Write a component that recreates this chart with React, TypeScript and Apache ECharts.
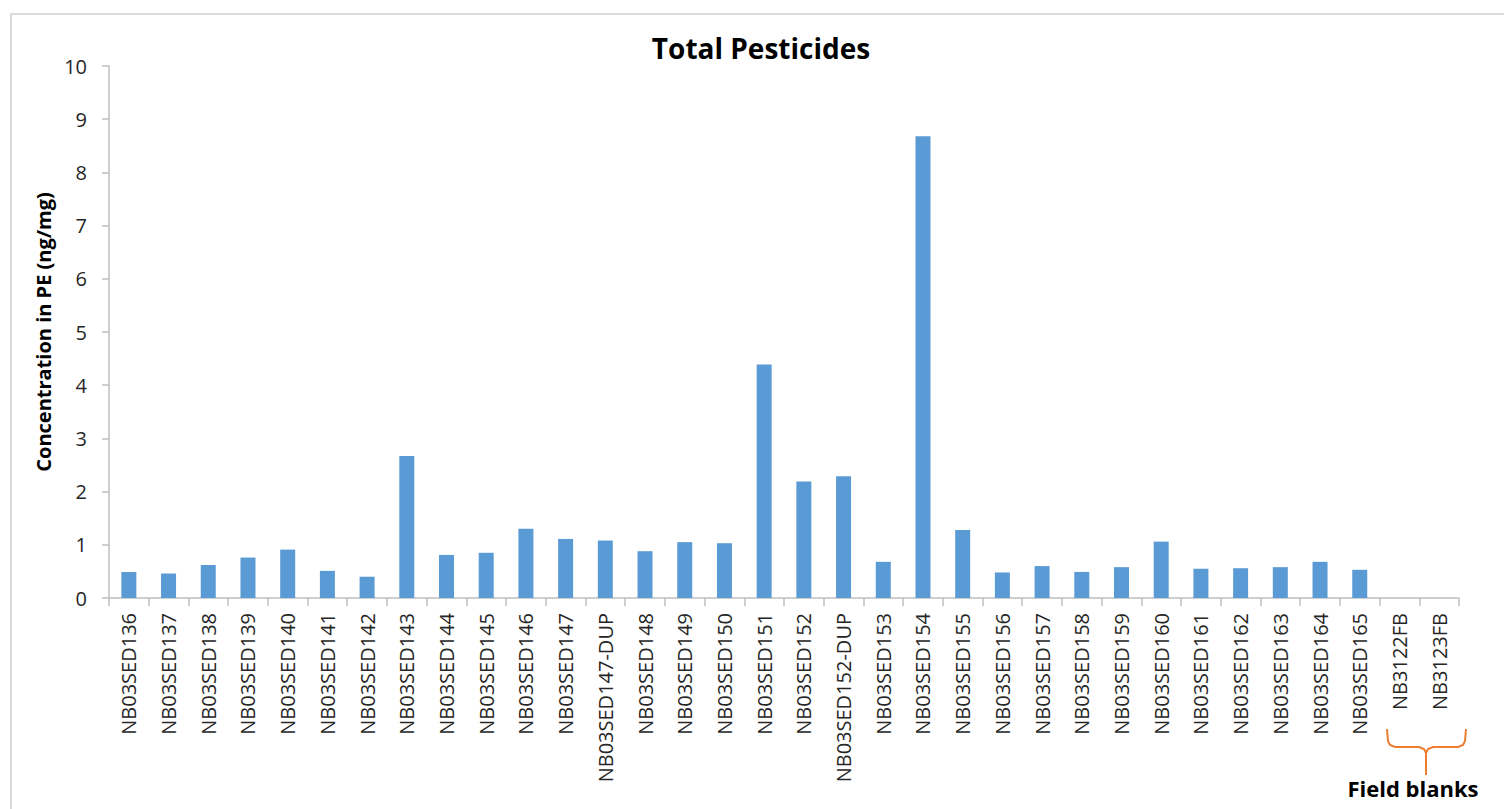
import React, { useEffect, useRef } from "react";
import * as echarts from "echarts";

const categories: string[] = [
  "NB03SED136", "NB03SED137", "NB03SED138", "NB03SED139", "NB03SED140", "NB03SED141",
  "NB03SED142", "NB03SED143", "NB03SED144", "NB03SED145", "NB03SED146", "NB03SED147",
  "NB03SED147-DUP", "NB03SED148", "NB03SED149", "NB03SED150", "NB03SED151", "NB03SED152",
  "NB03SED152-DUP", "NB03SED153", "NB03SED154", "NB03SED155", "NB03SED156", "NB03SED157",
  "NB03SED158", "NB03SED159", "NB03SED160", "NB03SED161", "NB03SED162", "NB03SED163",
  "NB03SED164", "NB03SED165", "NB3122FB", "NB3123FB",
];

const totalPesticides: number[] = [
  0.49, 0.46, 0.62, 0.76, 0.91, 0.51, 0.40, 2.67, 0.81, 0.85, 1.30, 1.11,
  1.08, 0.88, 1.05, 1.03, 4.39, 2.19, 2.29, 0.68, 8.68, 1.28, 0.48, 0.60,
  0.49, 0.58, 1.06, 0.55, 0.56, 0.58, 0.68, 0.53, 0, 0,
];

const chartTitle = "Total Pesticides";
const yAxisName = "Concentration in PE (ng/mg)";
const bracketLabel = "Field blanks";

const FONT = "'Open Sans', 'Noto Sans', sans-serif";

export default function App() {
  const ref = useRef<HTMLDivElement>(null);
  useEffect(() => {
    if (!ref.current) return;
    const chart = echarts.init(ref.current, undefined, { renderer: "svg" });
    chart.setOption({
      animation: false,
      backgroundColor: "#ffffff",
      grid: { left: 109, right: 45, top: 66, bottom: 211, containLabel: false },
      xAxis: {
        type: "category",
        data: categories,
        axisLine: { show: true, lineStyle: { color: "#bfbfbf", width: 1.5 } },
        axisTick: { show: true, length: 8, lineStyle: { color: "#bfbfbf", width: 1.5 } },
        axisLabel: {
          interval: 0,
          rotate: 90,
          margin: 15,
          fontSize: 20,
          fontFamily: FONT,
          color: "#262626",
        },
      },
      yAxis: {
        type: "value",
        min: 0,
        max: 10,
        interval: 1,
        name: yAxisName,
        nameLocation: "middle",
        nameRotate: 90,
        nameGap: 55,
        nameTextStyle: { fontSize: 20, fontWeight: "bold", fontFamily: FONT, color: "#000" },
        splitLine: { show: false },
        axisLine: { show: true, lineStyle: { color: "#bfbfbf", width: 1.5 } },
        axisTick: { show: true, length: 7, lineStyle: { color: "#bfbfbf", width: 1.5 } },
        axisLabel: { margin: 22, fontSize: 20, fontFamily: FONT, color: "#262626" },
      },
      series: [
        {
          type: "bar",
          data: totalPesticides,
          barWidth: 15,
          itemStyle: { color: "#5B9BD5" },
        },
      ],
      graphic: [
        {
          type: "rect",
          shape: { x: 11, y: 14, width: 1510, height: 820 },
          style: { fill: "none", stroke: "#d0d0d0", lineWidth: 1.5 },
          silent: true,
          z: -1,
        },
        {
          type: "text",
          x: 761,
          y: 48,
          style: {
            text: chartTitle,
            fontSize: 28,
            fontWeight: "bold",
            fontFamily: FONT,
            fill: "#000",
            align: "center",
            verticalAlign: "middle",
          },
        },
        {
          type: "polyline",
          shape: {
            points: [
              [1387, 729], [1388, 741], [1390, 745], [1395, 747], [1419, 747],
              [1424, 749], [1426, 753], [1426, 775],
            ],
          },
          style: { stroke: "#ED7D31", lineWidth: 2, fill: "none" },
        },
        {
          type: "polyline",
          shape: {
            points: [
              [1426, 753], [1428, 749], [1433, 747], [1458, 747], [1463, 745],
              [1465, 741], [1466, 729],
            ],
          },
          style: { stroke: "#ED7D31", lineWidth: 2, fill: "none" },
        },
        {
          type: "text",
          x: 1413,
          y: 788,
          style: {
            text: bracketLabel,
            fontSize: 22,
            fontWeight: "bold",
            fontFamily: FONT,
            fill: "#000",
            align: "center",
            verticalAlign: "middle",
          },
        },
      ],
    });
    return () => chart.dispose();
  }, []);
  return (
    <div
      ref={ref}
      style={{ position: "absolute", left: 0, top: 0, width: 1504, height: 809 }}
    />
  );
}
